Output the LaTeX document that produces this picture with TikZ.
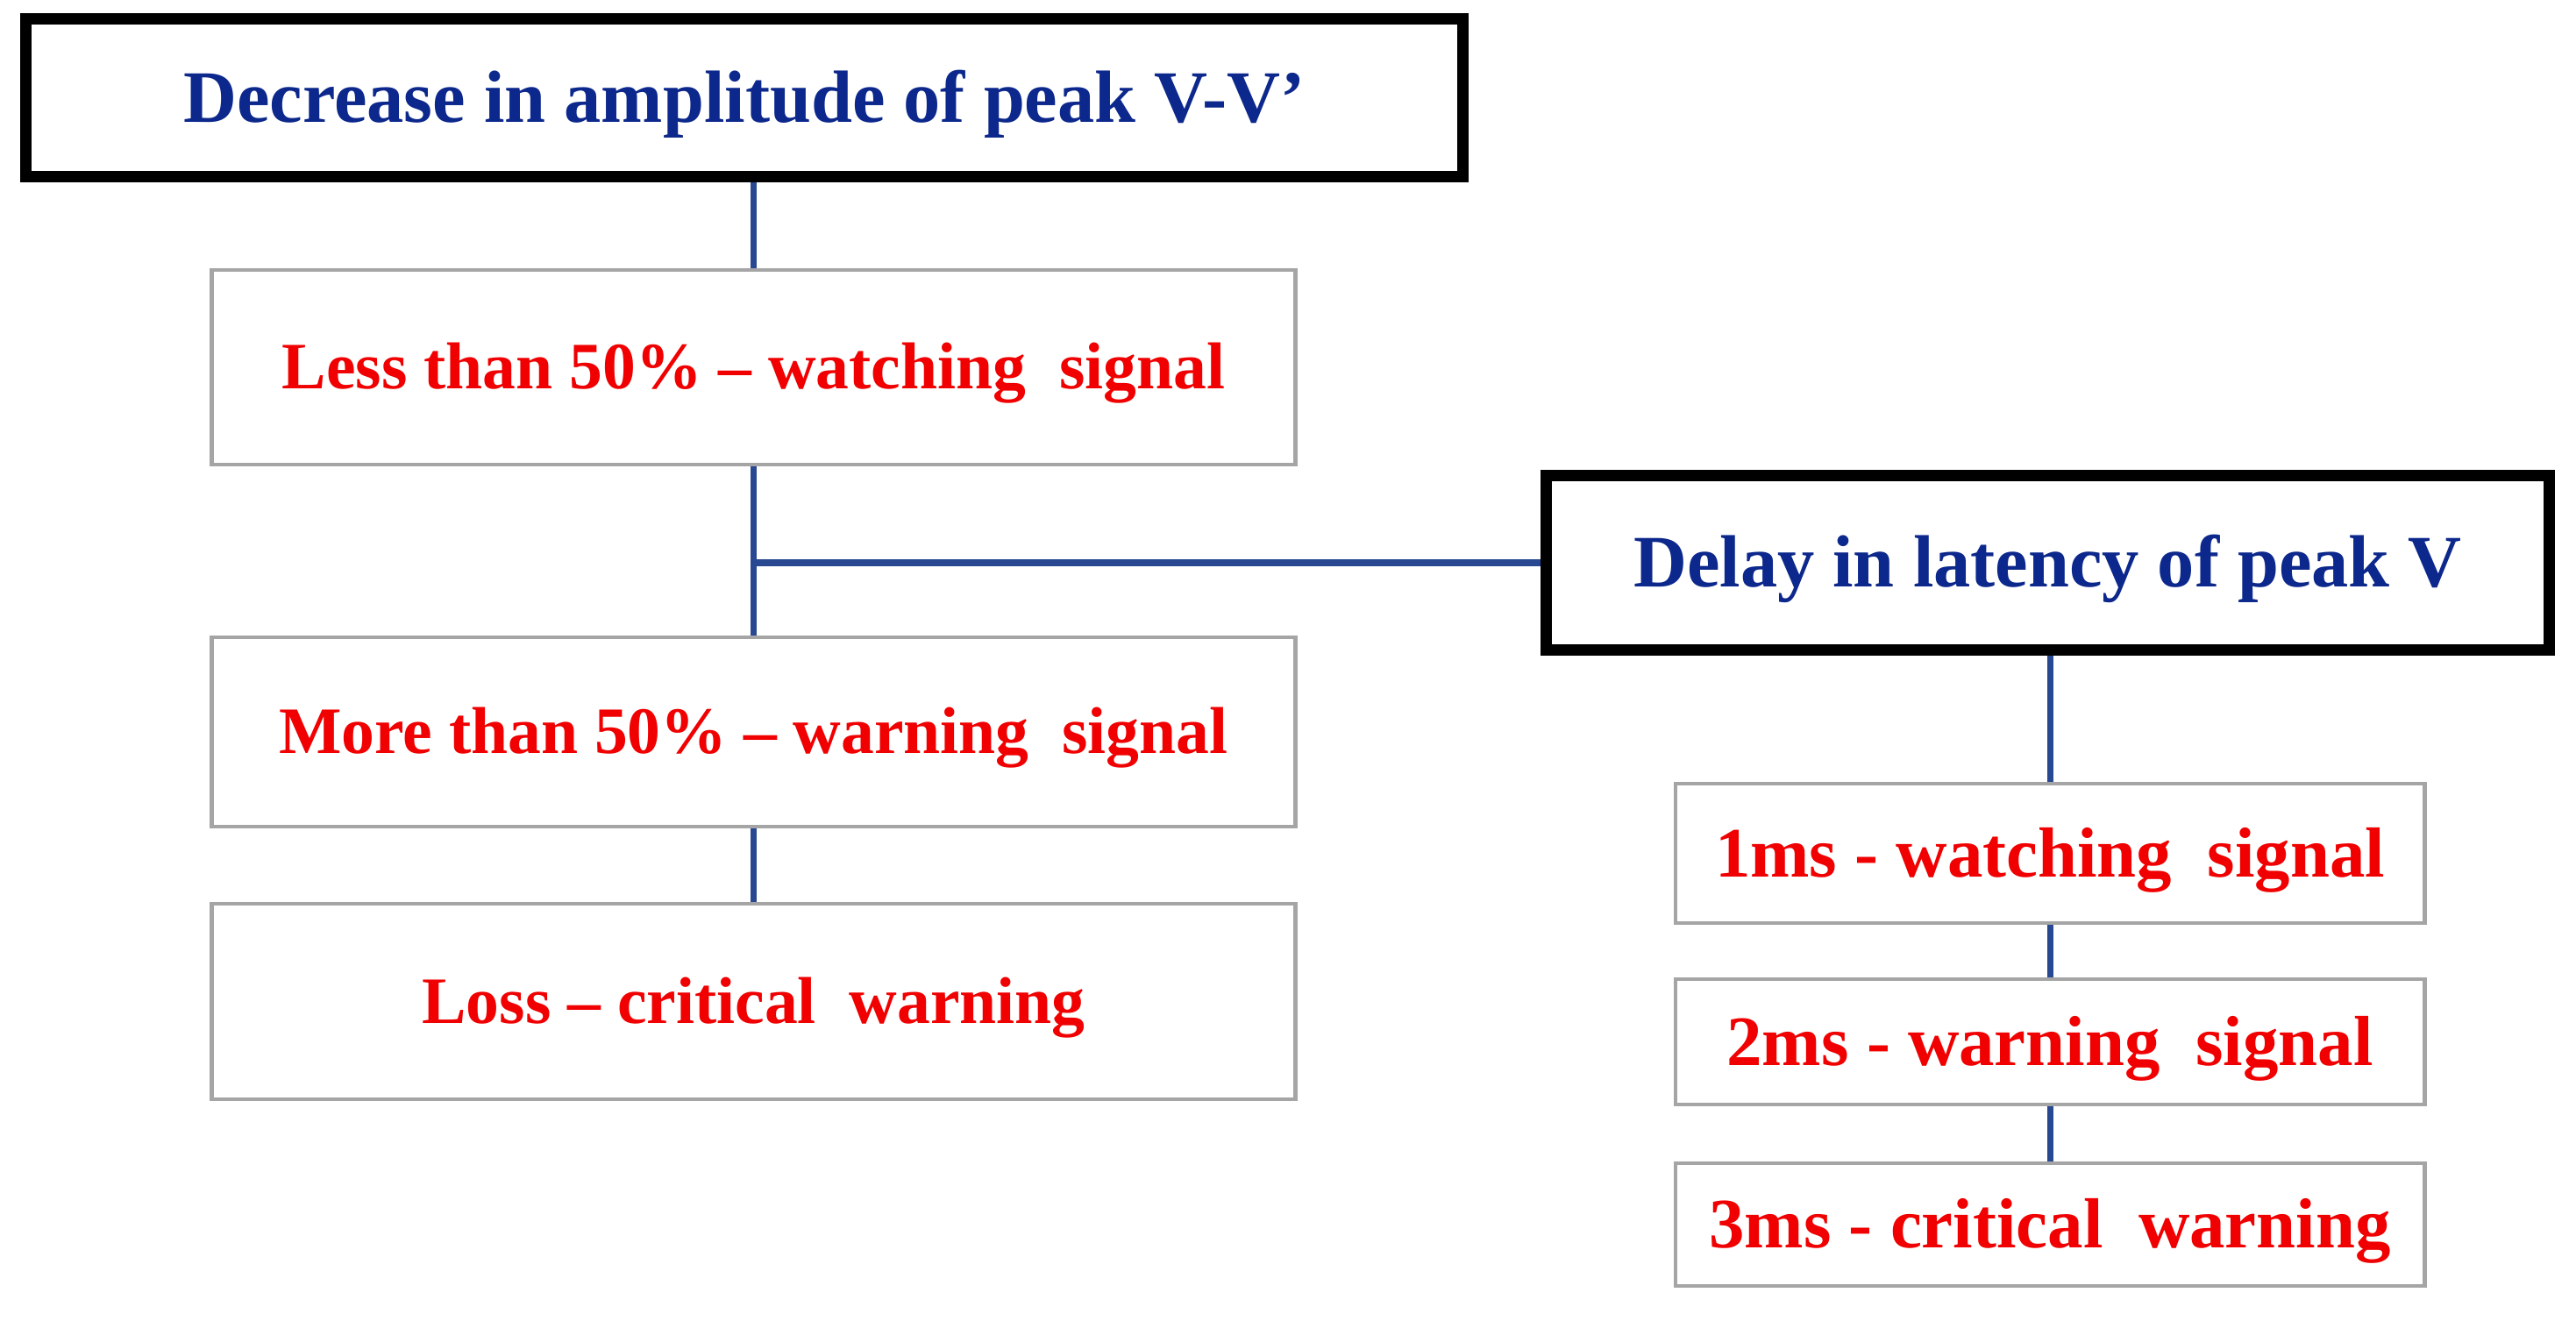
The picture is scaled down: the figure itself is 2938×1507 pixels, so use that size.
\documentclass[tikz,border=0pt]{standalone}
\usepackage{fontspec}
\setmainfont{Liberation Serif}
\definecolor{navytxt}{RGB}{12,40,140}
\definecolor{redtxt}{RGB}{240,0,0}
\definecolor{conn}{RGB}{40,72,145}
\definecolor{boxgray}{RGB}{165,165,165}
\begin{document}
\begin{tikzpicture}[x=0.01cm,y=-0.01cm,
  titlebox/.style={draw=black,line width=0.13cm,fill=white,inner sep=0pt,
    text height=15.9pt,text depth=0pt,
    text=navytxt,font=\bfseries\fontsize{24pt}{28pt}\selectfont},
  leftbox/.style={draw=boxgray,line width=0.045cm,fill=white,inner sep=0pt,
    text height=14.2pt,text depth=0pt,
    minimum width=12.35cm,text=redtxt,font=\bfseries\fontsize{21.5pt}{25pt}\selectfont},
  rightbox/.style={draw=boxgray,line width=0.045cm,fill=white,inner sep=0pt,
    text height=15.2pt,text depth=0pt,
    minimum width=8.54cm,text=redtxt,font=\bfseries\fontsize{23pt}{27pt}\selectfont},
  link/.style={draw=conn,line width=0.07cm},
  mainlink/.style={draw=conn,line width=0.075cm}]
\useasboundingbox (0,0) rectangle (2938,1507);
% title boxes
\node[titlebox,minimum width=16.39cm,minimum height=1.80cm] (A) at (849,111.5) {Decrease in amplitude of peak V-V’};
\node[titlebox,minimum width=11.44cm,minimum height=1.99cm] (E) at (2335.5,642) {Delay in latency of peak V};
% left column
\node[leftbox,minimum height=2.22cm] (B) at (859.5,419) {Less than 50\% – watching\ \ signal};
\node[leftbox,minimum height=2.16cm] (C) at (859.5,835) {More than 50\% – warning\ \ signal};
\node[leftbox,minimum height=2.23cm] (D) at (859.5,1142.5) {Loss – critical\ \ warning};
% right column
\node[rightbox,minimum height=1.59cm] (F) at (2338,973.5) {1ms - watching\ \ signal};
\node[rightbox,minimum height=1.43cm] (G) at (2338,1188.5) {2ms - warning\ \ signal};
\node[rightbox,minimum height=1.40cm] (H) at (2338,1397) {3ms - critical\ \ warning};
% connectors
\draw[link] (A.south -| B.north) -- (B.north);
\draw[link] (B.south) -- (C.north);
\draw[link] (C.south) -- (D.north);
\coordinate (J) at (B.south |- E.west);
\draw[mainlink] (J) -- (E.west);
\draw[link] (E.south -| F.north) -- (F.north);
\draw[link] (F.south) -- (G.north);
\draw[link] (G.south) -- (H.north);
\end{tikzpicture}
\end{document}
